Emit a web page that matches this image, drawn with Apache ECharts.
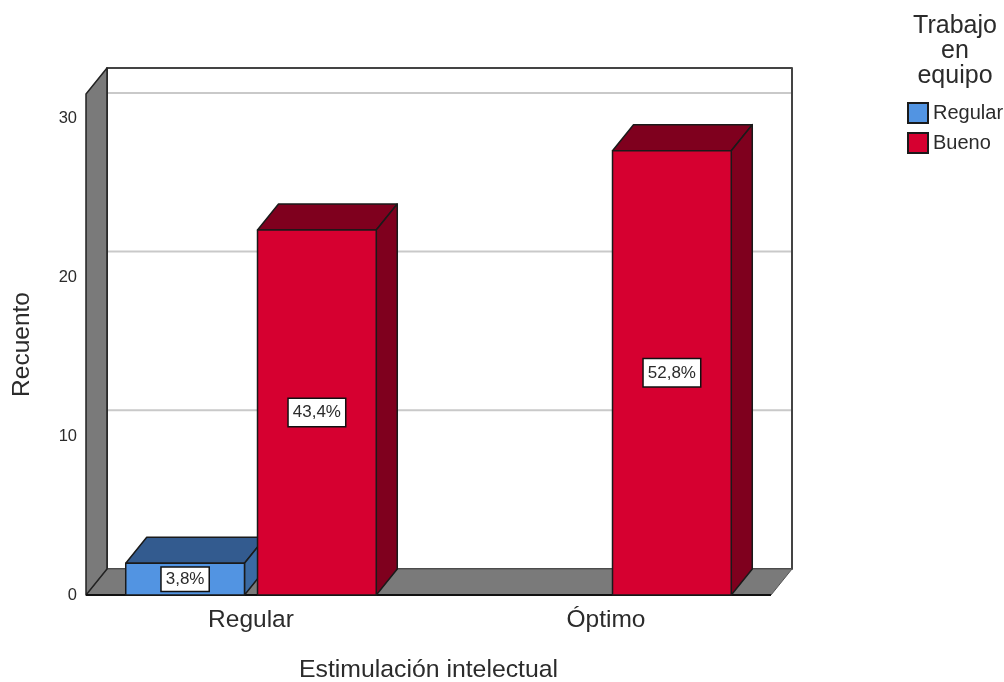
<!DOCTYPE html>
<html>
<head>
<meta charset="utf-8">
<style>html,body{margin:0;padding:0;background:#fff}#chart{width:1004px;height:682px}</style>
<script src="https://cdn.jsdelivr.net/npm/echarts@6/dist/echarts.min.js"></script>
</head>
<body>
<div id="chart"></div>
<script>
// Conteos por categoría de estimulación intelectual
const categories = ['Regular', 'Óptimo'];
const regularCounts = [2, null];
const buenoCounts = [23, 28];
const regularLabels = ['3,8%', ''];
const buenoLabels = ['43,4%', '52,8%'];
const yTicks = [10, 20, 30];
const yMax = 31.57;

// Proyección de la profundidad 3D, en píxeles
const DX = 21, DY = -26;
const INSET = 12.5;
const FONT = '"Liberation Sans", Arial, sans-serif';
const INK = '#1a1a1a';
const TEXT = '#2b2b2b';

function poly(points, fill, stroke, lineWidth) {
  return {
    type: 'polygon',
    shape: { points },
    style: { fill, stroke: stroke || INK, lineWidth: lineWidth == null ? 1.5 : lineWidth, lineJoin: 'round' }
  };
}

// Paredes, suelo y líneas de cuadrícula del fondo
function renderBackdrop(params, api) {
  const cs = params.coordSys;
  const x0 = cs.x + INSET, x1 = cs.x + cs.width - INSET;
  const yb = cs.y + cs.height, yt = cs.y;
  const children = [
    poly([[x0 + DX, yt + DY], [x1 + DX, yt + DY], [x1 + DX, yb + DY], [x0 + DX, yb + DY]], '#ffffff', '#444', 2),
    poly([[x0, yb], [x0 + DX, yb + DY], [x1 + DX, yb + DY], [x1, yb]], '#7a7a7a', '#555', 1),
    poly([[x0, yt], [x0 + DX, yt + DY], [x0 + DX, yb + DY], [x0, yb]], '#7a7a7a', '#222', 1.5)
  ];
  yTicks.forEach(function (t) {
    const y = api.coord([0, t])[1] + DY;
    children.push({
      type: 'line',
      shape: { x1: x0 + DX + 1, y1: y, x2: x1 + DX - 1, y2: y },
      style: { stroke: '#c9c9c9', lineWidth: 2 }
    });
  });
  children.push({
    type: 'line',
    shape: { x1: x0, y1: yb, x2: x1, y2: yb },
    style: { stroke: '#111', lineWidth: 2 }
  });
  return { type: 'group', children };
}

// Barra 3D: cara frontal, superior y lateral, con su etiqueta de porcentaje
function makeBarRenderer(side, front, top, flank, labels, padV) {
  return function (params, api) {
    const value = api.value(1);
    if (value == null || isNaN(value)) return null;
    const idx = api.value(0);
    const band = api.size([1, 0])[0];
    const cx = api.coord([idx, 0])[0] + side * 0.1856 * band;
    const w = 0.3345 * band;
    const yb = api.coord([idx, 0])[1];
    const yt = api.coord([idx, value])[1];
    const l = cx - w / 2, r = cx + w / 2;
    return {
      type: 'group',
      children: [
        poly([[l, yt], [l + DX, yt + DY], [r + DX, yt + DY], [r, yt]], top),
        poly([[r, yt], [r + DX, yt + DY], [r + DX, yb + DY], [r, yb]], flank),
        poly([[l, yt], [r, yt], [r, yb], [l, yb]], front),
        {
          type: 'text',
          style: {
            text: labels[params.dataIndex],
            x: cx,
            y: (yt + yb) / 2,
            align: 'center',
            verticalAlign: 'middle',
            font: '17px ' + FONT,
            fill: TEXT,
            backgroundColor: '#ffffff',
            borderColor: '#111111',
            borderWidth: 1.5,
            padding: [padV, 4, padV, 4]
          }
        }
      ]
    };
  };
}

function pairs(values) {
  return values.map(function (v, i) { return [i, v]; });
}

const chart = echarts.init(document.getElementById('chart'), null, { renderer: 'canvas' });
chart.setOption({
  animation: false,
  backgroundColor: '#ffffff',
  title: {
    text: 'Trabajo\nen\nequipo',
    left: 955,
    top: 14,
    padding: 0,
    textAlign: 'center',
    textStyle: { fontFamily: FONT, fontSize: 25, fontWeight: 'normal', color: TEXT, lineHeight: 25 }
  },
  legend: {
    orient: 'vertical',
    left: 907,
    top: 102,
    padding: 0,
    itemWidth: 20,
    itemHeight: 20,
    itemGap: 8,
    icon: 'rect',
    data: ['Regular', 'Bueno'],
    textStyle: { fontFamily: FONT, fontSize: 20, color: TEXT }
  },
  grid: { left: 73.5, top: 94, width: 710, height: 501, outerBoundsMode: 'none' },
  xAxis: {
    type: 'category',
    data: categories,
    name: 'Estimulación intelectual',
    nameLocation: 'middle',
    nameGap: 63,
    nameTextStyle: { fontFamily: FONT, fontSize: 24.8, color: TEXT },
    axisLine: { show: false },
    axisTick: { show: false },
    axisLabel: { fontFamily: FONT, fontSize: 24.5, color: TEXT, margin: 13 }
  },
  yAxis: {
    type: 'value',
    min: 0,
    max: yMax,
    interval: 10,
    offset: -12.5,
    name: 'Recuento',
    nameLocation: 'middle',
    nameGap: 51,
    nameTextStyle: { fontFamily: FONT, fontSize: 24.5, color: TEXT },
    axisLine: { show: false },
    axisTick: { show: false },
    splitLine: { show: false },
    axisLabel: { fontFamily: FONT, fontSize: 16.5, color: TEXT, margin: 9, showMaxLabel: false }
  },
  series: [
    {
      name: 'Fondo',
      type: 'custom',
      coordinateSystem: 'cartesian2d',
      data: [[0, 0]],
      renderItem: renderBackdrop,
      silent: true
    },
    {
      name: 'Regular',
      type: 'custom',
      coordinateSystem: 'cartesian2d',
      encode: { x: 0, y: 1 },
      data: pairs(regularCounts),
      itemStyle: { color: '#5294e2', borderColor: '#1a1a1a', borderWidth: 2 },
      renderItem: makeBarRenderer(-1, '#5294e2', '#335b8f', '#3a6aa3', regularLabels, 3)
    },
    {
      name: 'Bueno',
      type: 'custom',
      coordinateSystem: 'cartesian2d',
      encode: { x: 0, y: 1 },
      data: pairs(buenoCounts),
      itemStyle: { color: '#d60030', borderColor: '#1a1a1a', borderWidth: 2 },
      renderItem: makeBarRenderer(1, '#d60030', '#7f001e', '#7f001e', buenoLabels, 5)
    }
  ]
});
</script>
</body>
</html>
